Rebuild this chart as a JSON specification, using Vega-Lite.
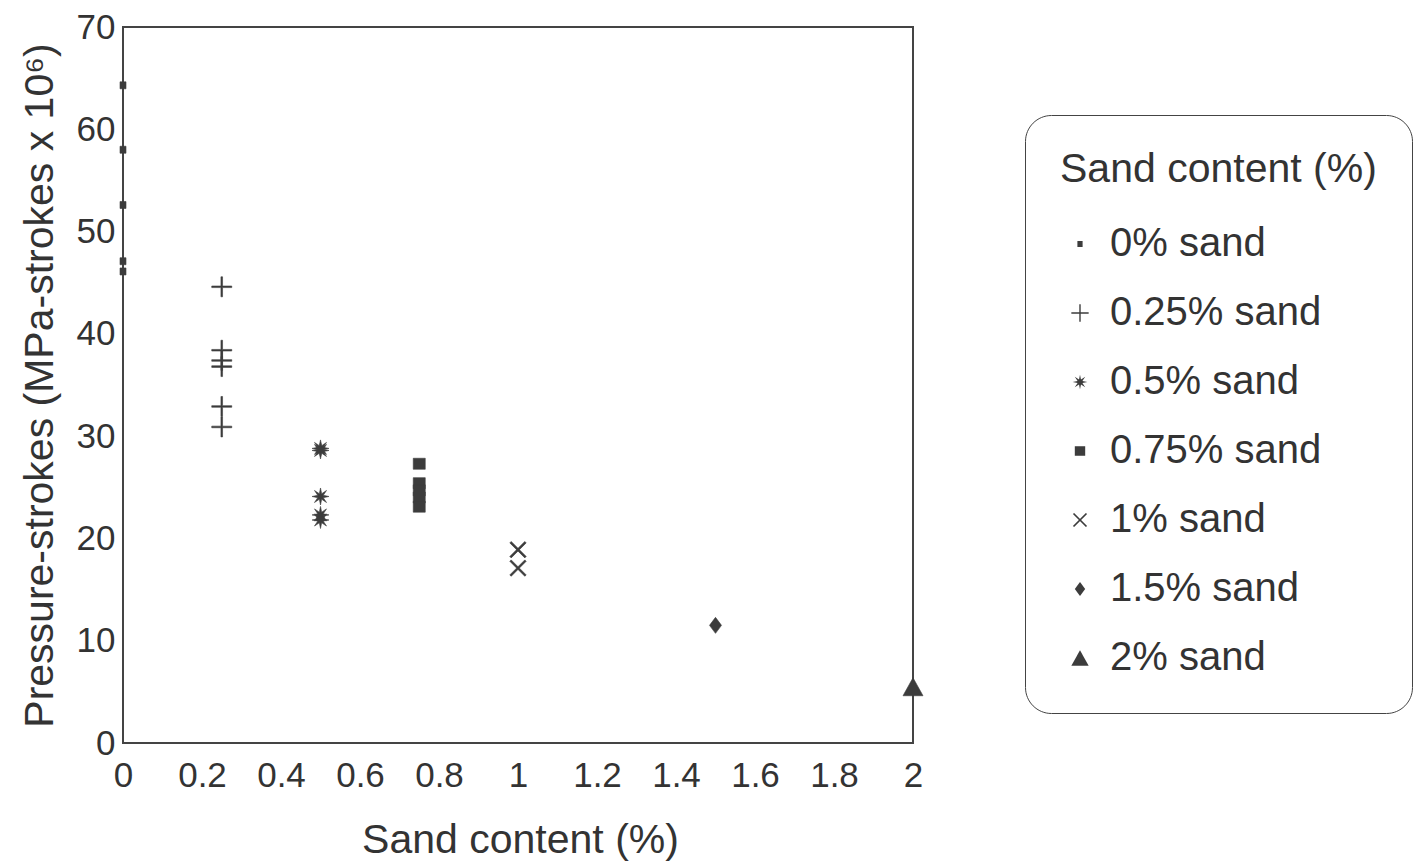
{
  "$schema": "https://vega.github.io/schema/vega-lite/v6.json",
  "width": 790,
  "height": 716,
  "autosize": "none",
  "padding": {"left": 123, "top": 27, "right": 506, "bottom": 120},
  "background": "white",
  "config": {
    "font": "Liberation Sans",
    "view": {"stroke": "#444", "strokeWidth": 2},
    "axis": {"domain": false, "ticks": false, "grid": false, "labelColor": "#333", "titleColor": "#333", "labelFont": "Liberation Sans", "titleFont": "Liberation Sans", "titleFontWeight": "normal"}
  },
  "data": {
    "values": [
      {"series": "0% sand", "sand": 0, "ps": 64.3},
      {"series": "0% sand", "sand": 0, "ps": 58.0},
      {"series": "0% sand", "sand": 0, "ps": 52.6},
      {"series": "0% sand", "sand": 0, "ps": 47.1},
      {"series": "0% sand", "sand": 0, "ps": 46.1},
      {"series": "0.25% sand", "sand": 0.25, "ps": 44.6},
      {"series": "0.25% sand", "sand": 0.25, "ps": 38.4},
      {"series": "0.25% sand", "sand": 0.25, "ps": 37.4},
      {"series": "0.25% sand", "sand": 0.25, "ps": 36.8},
      {"series": "0.25% sand", "sand": 0.25, "ps": 32.9},
      {"series": "0.25% sand", "sand": 0.25, "ps": 30.9},
      {"series": "0.5% sand", "sand": 0.5, "ps": 28.8},
      {"series": "0.5% sand", "sand": 0.5, "ps": 28.6},
      {"series": "0.5% sand", "sand": 0.5, "ps": 24.1},
      {"series": "0.5% sand", "sand": 0.5, "ps": 22.3},
      {"series": "0.5% sand", "sand": 0.5, "ps": 21.8},
      {"series": "0.75% sand", "sand": 0.75, "ps": 27.3},
      {"series": "0.75% sand", "sand": 0.75, "ps": 25.4},
      {"series": "0.75% sand", "sand": 0.75, "ps": 24.7},
      {"series": "0.75% sand", "sand": 0.75, "ps": 24.0},
      {"series": "0.75% sand", "sand": 0.75, "ps": 23.1},
      {"series": "1% sand", "sand": 1, "ps": 18.9},
      {"series": "1% sand", "sand": 1, "ps": 17.1},
      {"series": "1.5% sand", "sand": 1.5, "ps": 11.5},
      {"series": "2% sand", "sand": 2, "ps": 5.5}
    ]
  },
  "mark": {"type": "point", "filled": true, "clip": false, "size": 400, "fill": "#3c3c3c", "stroke": "#3c3c3c", "strokeWidth": 0.6, "opacity": 1, "fillOpacity": 1},
  "encoding": {
    "x": {
      "field": "sand", "type": "quantitative",
      "scale": {"domain": [0, 2], "nice": false, "zero": true},
      "axis": {"values": [0, 0.2, 0.4, 0.6, 0.8, 1, 1.2, 1.4, 1.6, 1.8, 2], "format": "~g", "labelFontSize": 35, "labelPadding": 15, "labelFlush": false, "title": "Sand content (%)", "titleFontSize": 41, "titleX": 397, "titleY": 97, "titleBaseline": "middle"}
    },
    "y": {
      "field": "ps", "type": "quantitative",
      "scale": {"domain": [0, 70], "nice": false},
      "axis": {"values": [0, 10, 20, 30, 40, 50, 60, 70], "labelFontSize": 35, "labelPadding": 8, "labelFlush": false, "title": "Pressure-strokes (MPa-strokes x 10⁶)", "titleFontSize": 41, "titleX": -83, "titleY": 358, "titleAngle": -90, "titleAlign": "center", "titleBaseline": "middle"}
    },
    "shape": {
      "field": "series", "type": "nominal",
      "scale": {
        "domain": ["0% sand", "0.25% sand", "0.5% sand", "0.75% sand", "1% sand", "1.5% sand", "2% sand"],
        "range": [
          "M-0.3,-0.35H0.3V0.35H-0.3Z",
          "M-1,-0.08H-0.08V-1H0.08V-0.08H1V0.08H0.08V1H-0.08V0.08H-1Z",
          "M0.85,0L0.277,0.115L0.601,0.601L0.115,0.277L0,0.85L-0.115,0.277L-0.601,0.601L-0.277,0.115L-0.85,0L-0.277,-0.115L-0.601,-0.601L-0.115,-0.277L0,-0.85L0.115,-0.277L0.601,-0.601L0.277,-0.115Z",
          "M-0.6,-0.55H0.6V0.55H-0.6Z",
          "M-0.82,-0.68L0.68,0.82L0.82,0.68L-0.68,-0.82ZM-0.82,0.68L-0.68,0.82L0.82,-0.68L0.68,-0.82Z",
          "M0,-0.8L0.6,0L0,0.8L-0.6,0Z",
          "M0,-0.9L1,0.9H-1Z"
        ]
      },
      "legend": {
        "title": "Sand content (%)",
        "orient": "none",
        "legendX": 902,
        "legendY": 88,
        "padding": 35,
        "cornerRadius": 26,
        "strokeColor": "#444",
        "titleFontSize": 41,
        "titleFont": "Liberation Sans",
        "titleFontWeight": "normal",
        "titleColor": "#333",
        "titleLimit": 600,
        "titlePadding": 33,
        "labelFontSize": 40,
        "labelFont": "Liberation Sans",
        "labelColor": "#333",
        "labelOffset": 10,
        "symbolSize": 300,
        "symbolOffset": 0,
        "symbolStrokeWidth": 0.5,
        "symbolFillColor": "#3c3c3c",
        "symbolStrokeColor": "#3c3c3c",
        "rowPadding": 29,
        "labelLimit": 400,
        "encode": {
          "legend": {"update": {"strokeWidth": {"value": 2}}},
          "symbols": {"update": {"fill": {"value": "#3c3c3c"}, "opacity": {"value": 1}}}
        }
      }
    }
  }
}
